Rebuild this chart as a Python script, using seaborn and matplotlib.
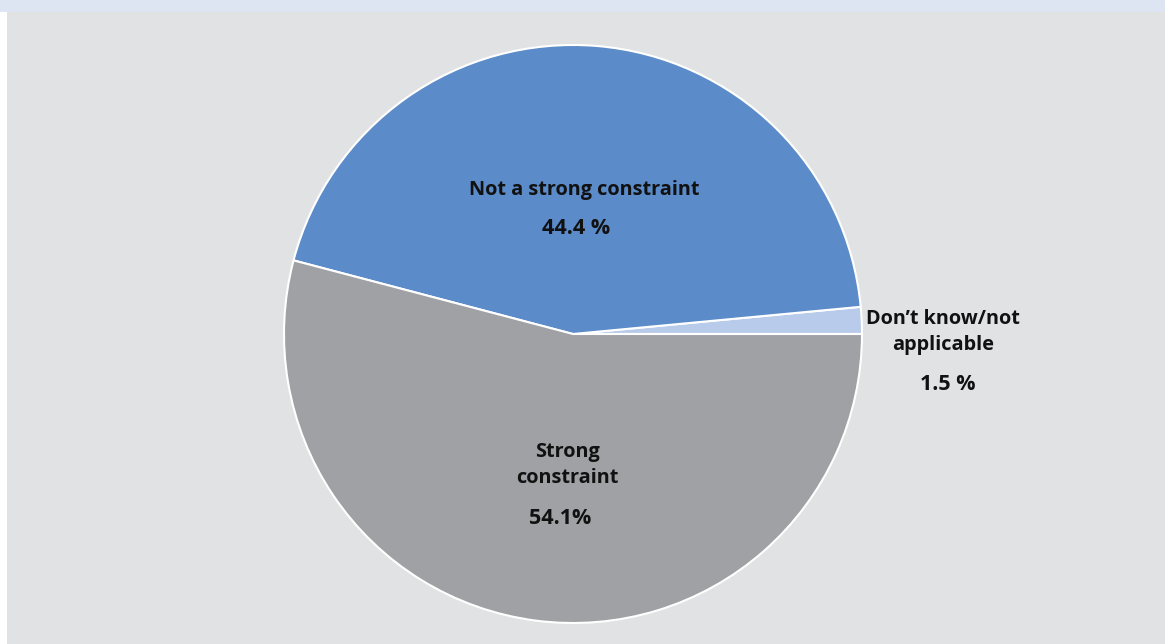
import matplotlib
matplotlib.use("Agg")
import matplotlib.pyplot as plt
from matplotlib.patches import Rectangle
import seaborn as sns

# slice data (counter-clockwise from 3 o'clock)
categories = ["Don\u2019t know/not\napplicable", "Not a strong constraint", "Strong\nconstraint"]
shares = [1.5, 44.4, 54.1]
value_labels = ["1.5 %", "44.4 %", "54.1%"]
colors = ["#b8cbea", "#5b8bc8", "#a0a1a5"]

sns.set_theme(style="white")
plt.rcParams['font.family'] = ['Open Sans', 'DejaVu Sans']

W, H = 1165, 644
fig = plt.figure(figsize=(W / 100, H / 100), dpi=100)
fig.patch.set_facecolor("white")
# background panels, kept behind the axes
fig.patches.append(Rectangle((7 / W, 0), 1 - 7 / W, (H - 12) / H, transform=fig.transFigure,
                             facecolor="#e1e2e3", edgecolor="none", zorder=-5))
fig.patches.append(Rectangle((0, (H - 12) / H), 1, 12 / H, transform=fig.transFigure,
                             facecolor="#dde4f2", edgecolor="none", zorder=-5))

ax = fig.add_axes([0, 0, 1, 1])
ax.set_facecolor("none")
cx, cy, r = 573, 334, 289
ax.pie(shares, colors=colors, startangle=0, counterclock=True, radius=1,
       wedgeprops=dict(edgecolor="white", linewidth=1.5))
ax.set_aspect("auto")
ax.set_xlim(-cx / r, (W - cx) / r)
ax.set_ylim(-(H - cy) / r, cy / r)
ax.axis("off")


def px(x, y):
    return (x - cx) / r, (cy - y) / r


# label placement (pixel positions in reference)
name_pos = [(943, 332), (584, 190), (567, 465)]
val_pos = [(948, 385), (576, 228), (560, 519)]
for name, val, npos, vpos in zip(categories, value_labels, name_pos, val_pos):
    ax.text(*px(*npos), name, ha="center", va="center", fontsize=14.3,
            fontweight="bold", color="#111111", linespacing=1.4)
    ax.text(*px(*vpos), val, ha="center", va="center", fontsize=15.5,
            fontweight="bold", color="#111111")

fig.savefig("out.png", dpi=100)
